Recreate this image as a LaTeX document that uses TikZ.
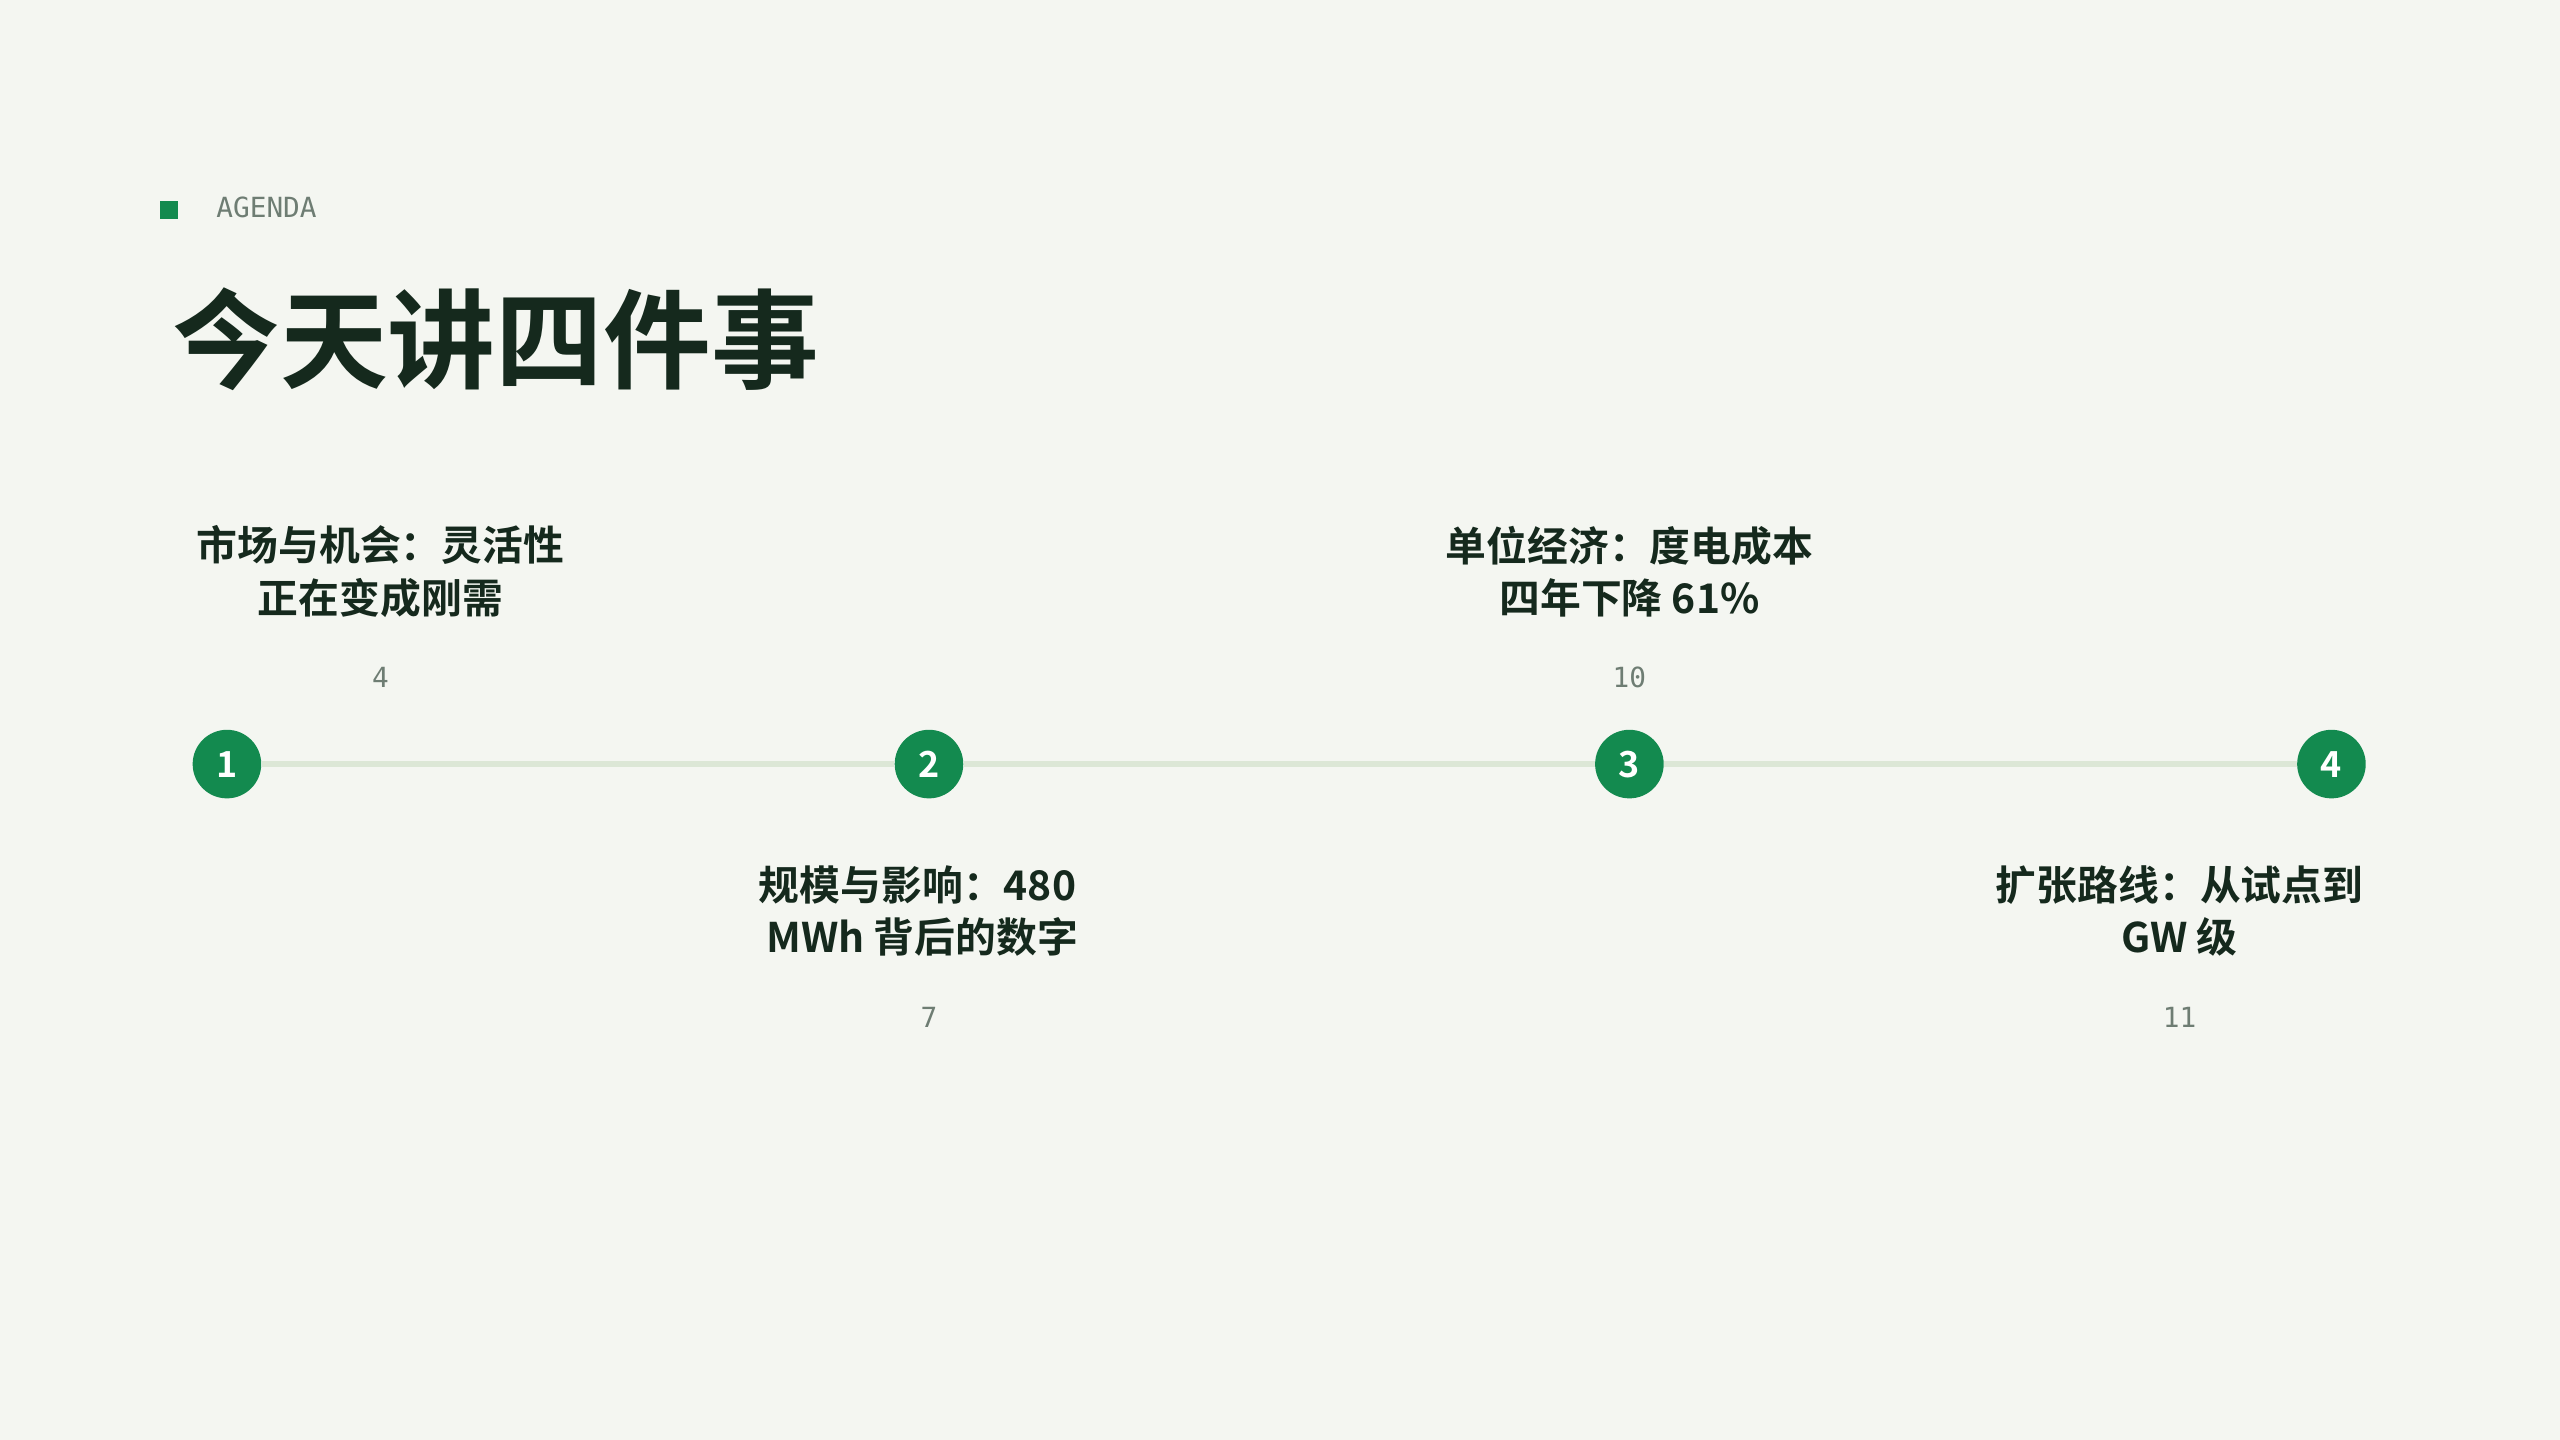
\documentclass[tikz,border=0pt]{standalone}
\usepackage{fontspec}
\setmainfont{Noto Sans CJK SC}
\newfontfamily\cjkb{Noto Sans CJK SC Bold}
\newfontfamily\monof{DejaVu Sans Mono}
\definecolor{bg}{HTML}{F4F6F1}
\definecolor{grn}{HTML}{138A4F}
\definecolor{dark}{HTML}{15291D}
\definecolor{gry}{HTML}{6E7D73}
\definecolor{ln}{HTML}{DCE7D6}
\begin{document}
\begin{tikzpicture}[x=1pt,y=-1pt,
  dot/.style={circle,fill=grn,minimum size=42pt,inner sep=0pt,text=white,font=\cjkb\fontsize{22}{22}\selectfont},
  lbl/.style={align=center,text=dark,font=\cjkb\fontsize{25}{32}\selectfont},
  num/.style={text=gry,font=\monof\fontsize{17}{17}\selectfont}]
\fill[bg] (0,0) rectangle (1568,882);
\useasboundingbox (0,0) rectangle (1568,882);
\fill[grn] (98,123) rectangle (109,134);
\node[anchor=west,text=gry,font=\monof\fontsize{17}{17}\selectfont] (ag) at (129,127) {AGENDA};
\node[anchor=west,text=dark,font=\cjkb\fontsize{66}{66}\selectfont] (title) at (102,208) {今天讲四件事};
\node[dot] (d1) at (139,468) {1};
\node[dot] (d2) at (569,468) {2};
\node[dot] (d3) at (998,468) {3};
\node[dot] (d4) at (1428,468) {4};
\draw[ln,line width=3.5pt] (d1) -- (d2) (d2) -- (d3) (d3) -- (d4);
\node[lbl] (l1) at (233,350) {市场与机会：灵活性\\正在变成刚需};
\node[num] (n1) at (233,415) {4};
\node[lbl] (l2) at (562,558) {规模与影响：480\\\ MWh 背后的数字};
\node[num] (n2) at (569,623) {7};
\node[lbl] (l3) at (998,350) {单位经济：度电成本\\四年下降 61\%};
\node[num] (n3) at (998,415) {10};
\node[lbl] (l4) at (1335,558) {扩张路线：从试点到\\GW 级};
\node[num] (n4) at (1335,623) {11};
\end{tikzpicture}
\end{document}
